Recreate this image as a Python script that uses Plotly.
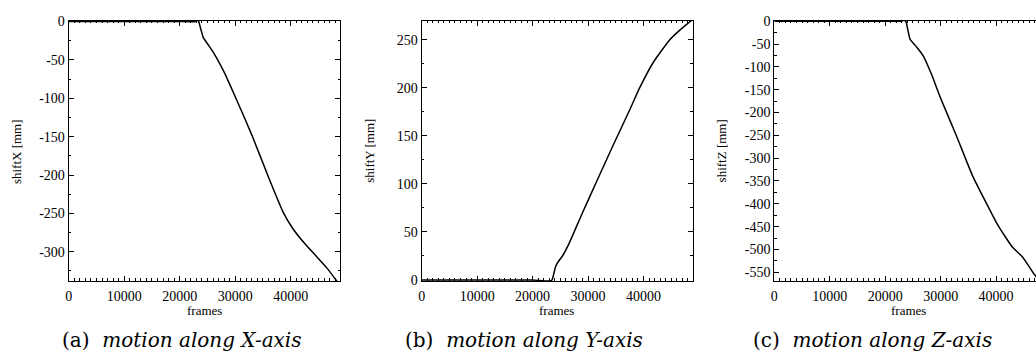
import plotly.graph_objects as go

# Camera shift per axis over the recorded frames
frames_x = [0, 5000, 10000, 15000, 20000, 22800, 23100, 23400, 23800, 24250, 25000,
            26300, 28000, 30000, 33000, 36000, 38600, 40400, 42600, 44500, 46500, 48600]
shift_x = [0, 0, 0, 0, 0, 0, 1.5, 0, -10, -21, -29,
           -43, -66, -98, -148, -203, -248, -270, -290, -305, -321, -341]

frames_y = [0, 5000, 10000, 15000, 20000, 23000, 23500, 23800, 24100, 24400, 25500,
            26500, 29000, 31500, 34500, 37500, 39300, 41700, 44700, 46500, 49000]
shift_y = [0, 0, 0, 0, 0, -1, 0, 6, 13, 17, 26,
           37, 70, 102, 140, 177, 200, 226, 250, 260, 272]

frames_z = [0, 5000, 10000, 15000, 20000, 22900, 23300, 23700, 24100, 24500, 25700,
            26900, 28400, 29900, 32800, 35800, 38200, 40000, 41800, 43000, 44800, 46900, 48500]
shift_z = [0, 0, 0, 0, 0, 0, 2, 0, -20, -40, -57,
           -77, -118, -166, -250, -340, -398, -440, -475, -496, -517, -555, -578]

y_titles = ["shiftX [mm]", "shiftY [mm]", "shiftZ [mm]"]
captions = ["(a)  <i>motion along X-axis</i>",
            "(b)  <i>motion along Y-axis</i>",
            "(c)  <i>motion along Z-axis</i>"]

W, H = 1036, 360
x_doms = [(65 / W, 337.7 / W), (419.3 / W, 691.7 / W), (773.3 / W, 1.0)]
y_dom = (1 - 285 / H, 1 - 14.3 / H)
x_ranges = [[0, 48950], [0, 48930], [0, 47190]]
y_ranges = [[-338, 1], [-1, 270], [-569, 1]]
y_ticks = [list(range(-300, 1, 50)), list(range(0, 251, 50)), list(range(-550, 1, 50))]

serif = "Liberation Serif"
fig = go.Figure()
series = [(frames_x, shift_x), (frames_y, shift_y), (frames_z, shift_z)]
for i, (fx, sy) in enumerate(series):
    n = "" if i == 0 else str(i + 1)
    fig.add_trace(go.Scatter(x=fx, y=sy, mode="lines",
                             line=dict(color="black", width=1.5, shape="spline", smoothing=0.5),
                             xaxis="x" + n, yaxis="y" + n, showlegend=False))
    axis_common = dict(showgrid=False, zeroline=False, showline=True,
                       linecolor="black", linewidth=1.2, ticks="inside",
                       ticklen=5, tickwidth=1, tickcolor="black",
                       tickfont=dict(family=serif, size=14, color="black"))
    fig.layout["xaxis" + n] = dict(
        axis_common, domain=x_doms[i], range=x_ranges[i], anchor="y" + n,
        tickmode="array", tickvals=[0, 10000, 20000, 30000, 40000],
        ticktext=["0", "10000", "20000", "30000", "40000"],
        mirror="allticks", ticklabelstandoff=2,
        minor=dict(dtick=1000, tick0=0, ticklen=2.5, ticks="inside", tickcolor="black"))
    fig.layout["yaxis" + n] = dict(
        axis_common, domain=y_dom, range=y_ranges[i], anchor="x" + n,
        tickmode="array", tickvals=y_ticks[i],
        ticktext=[str(v) for v in y_ticks[i]],
        mirror=("allticks" if i < 2 else False),
        minor=dict(dtick=25, tick0=0, ticklen=2.5, ticks="inside", tickcolor="black"))

# Axis titles and captions
title_x = [201, 555, 908]
ytitle_x = [12, 367, 720]
caption_x = [179, 522, 872]
for i in range(3):
    fig.add_annotation(text="frames", x=title_x[i] / W, y=1 - 316 / H,
                       xref="paper", yref="paper", showarrow=False,
                       xanchor="center", yanchor="middle",
                       font=dict(family=serif, size=13, color="black"))
    fig.add_annotation(text=y_titles[i], x=ytitle_x[i] / W, y=1 - 150 / H,
                       xref="paper", yref="paper", showarrow=False, textangle=-90,
                       xanchor="center", yanchor="middle",
                       font=dict(family=serif, size=13, color="black"))
    fig.add_annotation(text=captions[i], x=caption_x[i] / W, y=1 - 346 / H,
                       xref="paper", yref="paper", showarrow=False,
                       xanchor="center", yanchor="middle",
                       font=dict(family="DejaVu Serif", size=20, color="black"))

fig.update_layout(width=W, height=H, margin=dict(l=0, r=0, t=0, b=0),
                  plot_bgcolor="white", paper_bgcolor="white")
fig.write_html("out.html")
